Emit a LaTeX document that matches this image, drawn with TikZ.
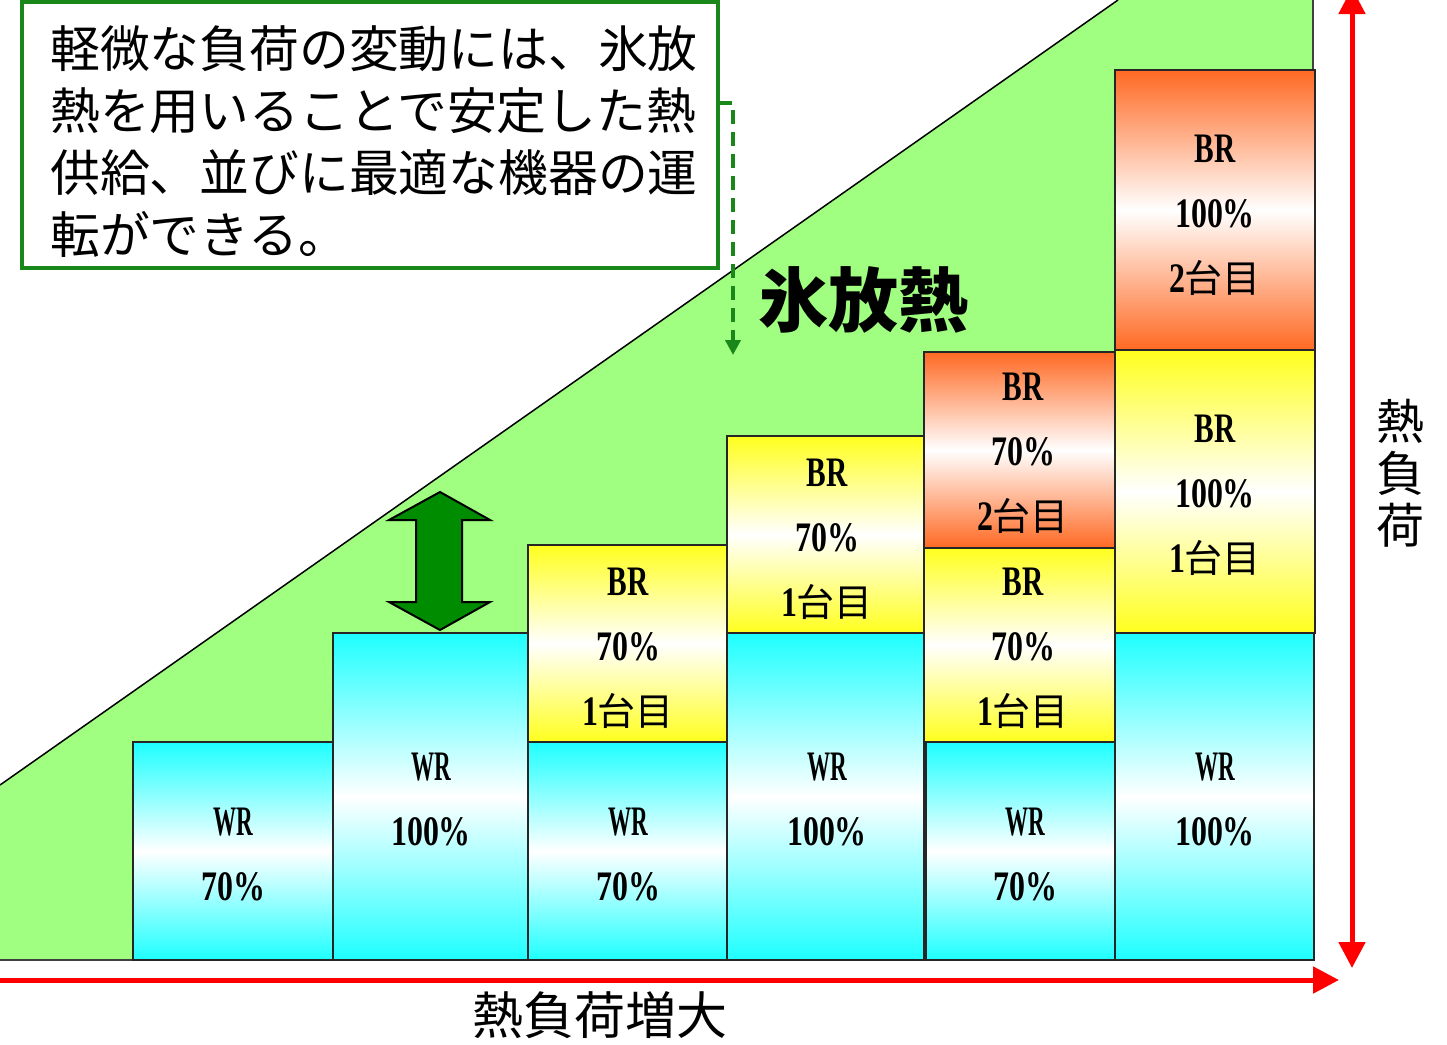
\documentclass[tikz,border=0pt]{standalone}
\usepackage{fontspec}
\setmainfont{Liberation Serif}
\newfontfamily\jp{Noto Sans CJK JP}
\usetikzlibrary{arrows.meta}
\definecolor{lgreen}{RGB}{160,255,128}
\definecolor{dgreen}{RGB}{25,135,25}
\definecolor{agreen}{RGB}{0,140,0}
\definecolor{cyanc}{RGB}{30,255,255}
\definecolor{yelc}{RGB}{255,255,30}
\definecolor{orac}{RGB}{255,105,35}
\newcommand\BRt{\scalebox{0.7}[1]{\bfseries BR}}
\newcommand\WRt{\scalebox{0.55}[1]{\bfseries WR}}
\newcommand\Pt[1]{\scalebox{0.76}[1]{\bfseries #1\%}}
\newcommand\Dai[1]{\scalebox{0.76}[1]{\bfseries #1}{\jp\fontsize{38bp}{38bp}\selectfont 台目}}
\tikzset{
  unit/.style={draw=black!85, line width=1.8bp},
  wrbox/.style={unit, top color=cyanc, bottom color=cyanc, middle color=white},
  ybox/.style={unit, top color=yelc, bottom color=yelc, middle color=white},
  obox/.style={unit, top color=orac, bottom color=orac, middle color=white},
  lbl/.style={align=center, inner sep=0pt, font=\fontsize{42bp}{65bp}\selectfont},
  redarrow/.style={draw=red, line width=5bp},
}
\begin{document}
\begin{tikzpicture}[x=1bp,y=-1bp]
\useasboundingbox (0,0) rectangle (1447,1044);
% green region
\fill[lgreen] (0,785) -- (1118,0) -- (1313,0) -- (1313,960) -- (0,960) -- cycle;
\draw[line width=1.5bp] (0,785) -- (1118,0);
\draw[line width=1.2bp, black!75] (1313,0) -- (1313,960);
\draw[line width=1.2bp, black!75] (0,960) -- (1313,960);

% column 1
\path[wrbox] (133,742) rectangle (333,960);
\node[lbl] (w1) at (233,855) {\WRt\\\Pt{70}};
% column 2
\path[wrbox] (333,633) rectangle (528,960);
\node[lbl] (w2) at (431,800) {\WRt\\\Pt{100}};
% column 3
\path[wrbox] (528,742) rectangle (727,960);
\node[lbl] (w3) at (628,855) {\WRt\\\Pt{70}};
\path[ybox] (528,545) rectangle (727,742);
\node[lbl] (b3) at (628,648) {\BRt\\\Pt{70}\\\Dai{1}};
% column 4
\path[wrbox] (727,633) rectangle (924,960);
\node[lbl] (w4) at (827,800) {\WRt\\\Pt{100}};
\path[ybox] (727,436) rectangle (924,633);
\node[lbl] (b4) at (827,539) {\BRt\\\Pt{70}\\\Dai{1}};
% column 5
\path[wrbox] (926,742) rectangle (1115,960);
\node[lbl] (w5) at (1025,855) {\WRt\\\Pt{70}};
\path[ybox] (924,548) rectangle (1115,742);
\node[lbl] (b5a) at (1023,648) {\BRt\\\Pt{70}\\\Dai{1}};
\path[obox] (924,352) rectangle (1115,548);
\node[lbl] (b5b) at (1023,453) {\BRt\\\Pt{70}\\\Dai{2}};
% column 6
\path[wrbox] (1115,633) rectangle (1314,960);
\node[lbl] (w6) at (1215,800) {\WRt\\\Pt{100}};
\path[ybox] (1115,350) rectangle (1315,633);
\node[lbl] (b6a) at (1215,495) {\BRt\\\Pt{100}\\\Dai{1}};
\path[obox] (1115,70) rectangle (1315,350);
\node[lbl] (b6b) at (1215,215) {\BRt\\\Pt{100}\\\Dai{2}};

% double arrow
\draw[fill=agreen, line width=2bp, line join=miter]
  (440,492) -- (389,520) -- (416,520) -- (416,602) -- (389,602) -- (440,630)
  -- (490,602) -- (462,602) -- (462,520) -- (490,520) -- cycle;

% ice heat label
\node[inner sep=0pt, font=\jp\bfseries\fontsize{70bp}{70bp}\selectfont] (ice) at (863,300) {氷放熱};

% text box
\node[draw=dgreen, line width=4bp, fill=white, minimum width=696bp, minimum height=266bp, inner sep=0pt] (tb) at (370,135) {};
\node[anchor=west, align=left, inner sep=0pt, font=\jp\fontsize{49.8bp}{62bp}\selectfont] (tt) at (50,142)
 {軽微な負荷の変動には、氷放\\熱を用いることで安定した熱\\供給、並びに最適な機器の運\\転ができる。};
\coordinate (ds) at (718,103);
\coordinate (de) at (733,355);
\draw[draw=dgreen, line width=4.5bp, dash pattern=on 14bp off 8bp, -{Triangle[length=15bp,width=15bp]}] (ds) -| (de);

% axes
\coordinate (hx0) at (0,980);
\coordinate (hx1) at (1339,980);
\draw[redarrow, -{Triangle[length=26bp,width=26bp]}] (hx0) -- (hx1);
\coordinate (vy0) at (1352,-12);
\coordinate (vy1) at (1352,968);
\draw[redarrow, {Triangle[length=26bp,width=26bp]}-{Triangle[length=26bp,width=26bp]}] (vy0) -- (vy1);

\node[align=center, inner sep=0pt, font=\jp\fontsize{48bp}{52bp}\selectfont] (yl) at (1400,473) {熱\\負\\荷};
\node[inner sep=0pt, font=\jp\fontsize{51bp}{51bp}\selectfont] (xl) at (600,1015) {熱負荷増大};
\end{tikzpicture}
\end{document}
